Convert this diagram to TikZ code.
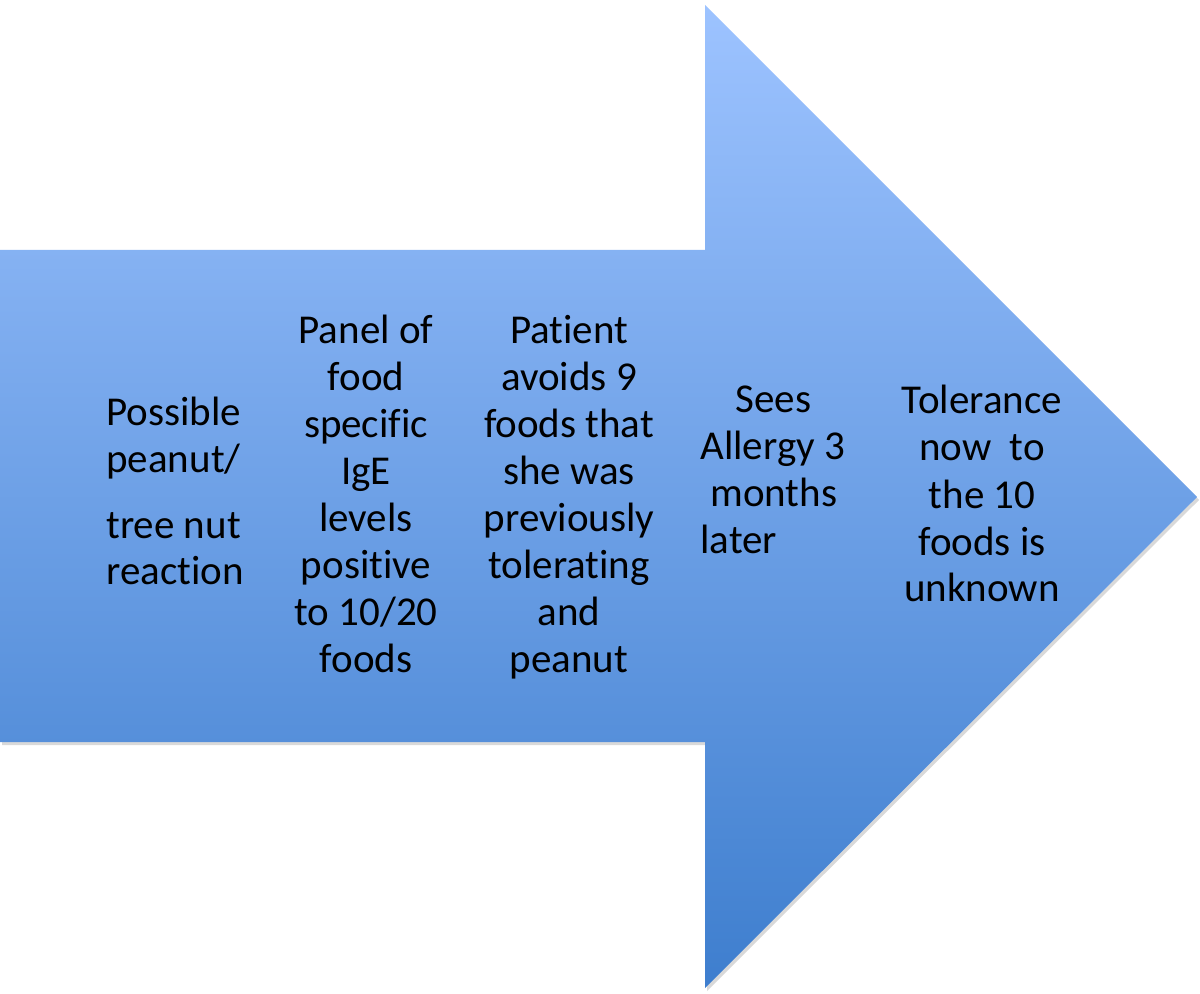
\documentclass[tikz,border=0pt]{standalone}
\usepackage{fontspec}
\setmainfont{Carlito}[Ligatures=NoCommon]
\usepackage{tikz}
\usetikzlibrary{positioning}
\definecolor{arrowtop}{RGB}{157,195,255}
\definecolor{arrowmid}{RGB}{118,164,232}
\definecolor{arrowbot}{RGB}{62,126,206}
\newcommand{\arrowshape}{(0,250) -- (705,250) -- (705,5) -- (1197,497) -- (705,988) -- (705,742) -- (0,742) -- cycle}

\begin{document}
\begin{tikzpicture}[x=0.5pt,y=-0.5pt,
  steptext/.style={inner sep=0pt,anchor=base,align=center,font=\fontsize{20.5}{23.5}\selectfont}]
\useasboundingbox (0,0) rectangle (1200,994);
\begin{scope}[shift={(2,3)}]
\fill[black,opacity=0.15] \arrowshape;
\end{scope}
\shade[top color=arrowtop,middle color=arrowmid,bottom color=arrowbot] \arrowshape;
\node[steptext,anchor=base west,align=left] (reaction) at (106,585) {Possible\\peanut/\\[9.5pt]tree nut\\reaction};
\node[steptext] (panel) at (366,672) {Panel of\\food\\specific\\IgE\\levels\\positive\\to 10/20\\foods};
\node[steptext] (avoid) at (569,672) {Patient\\avoids 9\\foods that\\she was\\previously\\tolerating\\and\\peanut};
\node[steptext,anchor=base west,align=left] (visit) at (700,553) {\hspace*{17.5pt}Sees\\Allergy 3\\\hspace*{5pt}months\\later};
\node[steptext] (tolerance) at (982,602) {Tolerance\\now\ \ to\\the 10\\foods is\\unknown};
\end{tikzpicture}
\end{document}
